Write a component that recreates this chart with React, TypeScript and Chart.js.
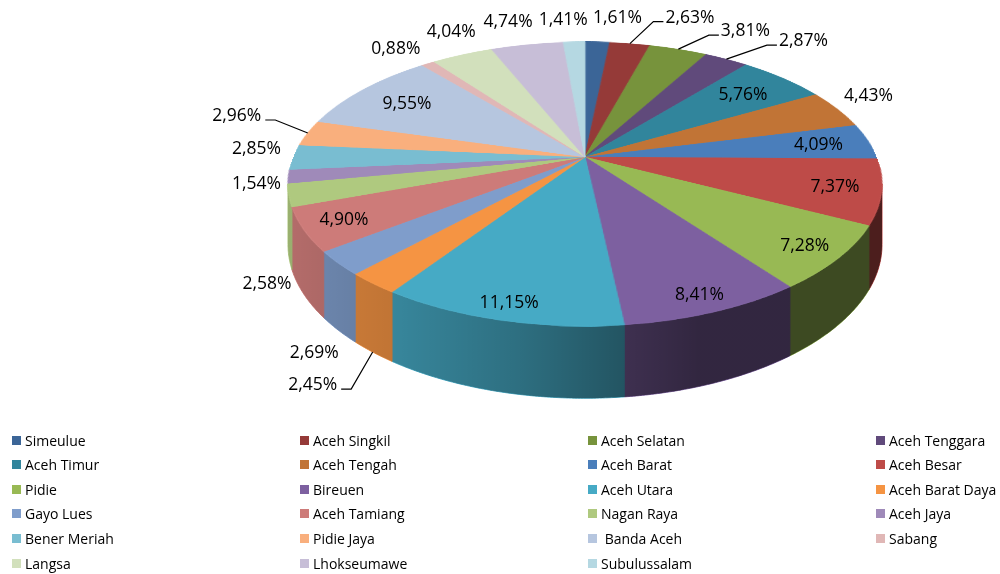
import React, { useEffect, useRef } from 'react';
import { Chart, registerables } from 'chart.js';

Chart.register(...registerables);

// ---------------- data ----------------
const REGIONS = [
  'Simeulue', 'Aceh Singkil', 'Aceh Selatan', 'Aceh Tenggara', 'Aceh Timur', 'Aceh Tengah',
  'Aceh Barat', 'Aceh Besar', 'Pidie', 'Bireuen', 'Aceh Utara', 'Aceh Barat Daya',
  'Gayo Lues', 'Aceh Tamiang', 'Nagan Raya', 'Aceh Jaya', 'Bener Meriah', 'Pidie Jaya',
  ' Banda Aceh', 'Sabang', 'Langsa', 'Lhokseumawe', 'Subulussalam',
];
const SHARES = [
  1.61, 2.63, 3.81, 2.87, 5.76, 4.43, 4.09, 7.37, 7.28, 8.41, 11.15, 2.45,
  2.69, 4.90, 2.58, 1.54, 2.85, 2.96, 9.55, 0.88, 4.04, 4.74, 1.41,
];
const COLORS = [
  '#3B6597', '#953A38', '#77933C', '#604A7B', '#31859C', '#C17436', '#4A7EBB', '#BE4B48',
  '#98B954', '#7D60A0', '#46AAC5', '#F59443', '#7F9DCB', '#CD7B79', '#AFC97F', '#9F8AB9',
  '#79BDD1', '#F9AF7D', '#B6C6DF', '#E0B7B6', '#D2E0BC', '#C7BED7', '#B5D8E2',
];

// label placement: null = inside the slice; [dx, dy, leader] = outside, offset from rim anchor
const LABEL_OUTSIDE: (number[] | null)[] = [
  [20, -25, 0], [60, -27, 1], [67, -19, 1], [77, -19, 1], null, [31, -14, 0], null, null,
  null, null, null, [-60, 32, 1], [-24, 22, 0], null, [-22, 26, 0], [-32, 7, 0],
  [-37, -9, 0], [-71, -18, 1], null, [-32, -15, 0], [-11, -24, 0], [-19, -24, 0], [-11, -23, 0],
];

// ---------------- 3D perspective geometry ----------------
const PX = 585;   // projected centre x
const PY = 157;   // projected centre y
const PA = 291.6; // horizontal scale
const PB = 136.9; // vertical scale
const PK = 0.19;  // perspective strength
const PD = 58.5;  // depth of the pie

const LABEL_FONT = '17.5px "Open Sans", sans-serif';

function proj(theta: number, r = 1): [number, number, number] {
  const u = r * Math.sin(theta);
  const v = -r * Math.cos(theta);
  const w = 1 - PK * v;
  return [PX + (PA * u) / w, PY + (PB * v) / w, w];
}

const fmt = (v: number) => v.toFixed(2).replace('.', ',') + '%';

function sidePath(ctx: CanvasRenderingContext2D, a: number, b: number) {
  const n = Math.max(2, Math.ceil(((b - a) * 180) / Math.PI * 2));
  ctx.beginPath();
  for (let j = 0; j <= n; j++) {
    const t = a + ((b - a) * j) / n;
    const [x, y] = proj(t);
    if (j === 0) ctx.moveTo(x, y); else ctx.lineTo(x, y);
  }
  for (let j = n; j >= 0; j--) {
    const t = a + ((b - a) * j) / n;
    const [x, y, w] = proj(t);
    ctx.lineTo(x, y + PD / w);
  }
  ctx.closePath();
}

const pie3d = {
  id: 'pie3d',
  afterDatasetsDraw(chart: any) {
    const ctx: CanvasRenderingContext2D = chart.ctx;
    const canvas: HTMLCanvasElement = chart.canvas;
    const meta = chart.getDatasetMeta(0);
    const arcs = meta.data;
    if (!arcs.length) return;
    const p0 = arcs[0].getProps(['x', 'y', 'outerRadius'], true);
    const c0x = p0.x, c0y = p0.y, R = p0.outerRadius;

    // copy the flat pie drawn by Chart.js
    const off = document.createElement('canvas');
    off.width = canvas.width;
    off.height = canvas.height;
    off.getContext('2d')!.drawImage(canvas, 0, 0);

    ctx.save();
    ctx.setTransform(1, 0, 0, 1, 0, 0);
    ctx.clearRect(0, 0, canvas.width, canvas.height);

    const angs = arcs.map((a: any) => {
      const p = a.getProps(['startAngle', 'endAngle'], true);
      return [p.startAngle + Math.PI / 2, p.endAngle + Math.PI / 2];
    });

    // ---- sides ----
    const tL = Math.acos(-PK);
    const tR = 2 * Math.PI - tL;
    angs.forEach(([s, e]: number[], i: number) => {
      const a = Math.max(s, tL);
      const b = Math.min(e, tR);
      if (b <= a) return;
      sidePath(ctx, a, b);
      ctx.fillStyle = COLORS[i];
      ctx.strokeStyle = COLORS[i];
      ctx.lineWidth = 1;
      ctx.fill();
      ctx.stroke();
    });
    const grad = ctx.createLinearGradient(288, 0, 882, 0);
    grad.addColorStop(0, 'rgba(0,0,0,0.12)');
    grad.addColorStop(0.1, 'rgba(0,0,0,0.18)');
    grad.addColorStop(0.19, 'rgba(0,0,0,0.22)');
    grad.addColorStop(0.39, 'rgba(0,0,0,0.35)');
    grad.addColorStop(0.567, 'rgba(0,0,0,0.5)');
    grad.addColorStop(0.69, 'rgba(0,0,0,0.6)');
    grad.addColorStop(1, 'rgba(0,0,0,0.6)');
    sidePath(ctx, tL, tR);
    ctx.fillStyle = grad;
    ctx.fill();

    // ---- top face: perspective warp, row by row ----
    ctx.imageSmoothingEnabled = true;
    (ctx as any).imageSmoothingQuality = 'high';
    const yTop = PY - PB / (1 + PK);
    const yBot = PY + PB / (1 - PK);
    const vOf = (y: number) => {
      const t = y - PY;
      return t / (PB + PK * t);
    };
    for (let yd = Math.floor(yTop); yd <= Math.ceil(yBot); yd++) {
      let v0 = vOf(yd);
      let v1 = vOf(yd + 1);
      v0 = Math.max(-1, v0);
      v1 = Math.min(1, v1);
      if (v1 <= v0) continue;
      const vc = (v0 + v1) / 2;
      const w = 1 - PK * vc;
      const sy = c0y + R * v0;
      const sh = Math.max(0.5, R * (v1 - v0));
      ctx.drawImage(off, c0x - R, sy, 2 * R, sh, PX - PA / w, yd, (2 * PA) / w, 1);
    }

    // ---- data labels ----
    ctx.font = LABEL_FONT;
    ctx.textBaseline = 'middle';
    ctx.textAlign = 'center';
    ctx.fillStyle = '#000';
    ctx.strokeStyle = '#000';
    ctx.lineWidth = 1.2;
    angs.forEach(([s, e]: number[], i: number) => {
      const mid = (s + e) / 2;
      const txt = fmt(SHARES[i]);
      const place = LABEL_OUTSIDE[i];
      let cx: number, cy: number;
      if (!place) {
        const v = -Math.cos(mid);
        const r = 0.83 + 0.08 * v;
        const [x, y] = proj(mid, r);
        cx = x; cy = y;
      } else {
        let [ax, ay, w] = proj(mid);
        if (mid > tL && mid < tR) ay += PD / w;
        cx = ax + place[0];
        cy = ay + place[1];
        if (place[2]) {
          const tw = ctx.measureText(txt).width;
          let ex: number, elx: number;
          if (place[0] > 0) {
            const left = cx - tw / 2;
            ex = left - 2; elx = left - 12;
          } else {
            const right = cx + tw / 2;
            ex = right + 4; elx = right + 14;
          }
          ctx.beginPath();
          ctx.moveTo(ax, ay);
          ctx.lineTo(elx, cy + 5);
          ctx.lineTo(ex, cy + 5);
          ctx.stroke();
        }
      }
      ctx.fillText(txt, cx, cy + 1);
    });
    ctx.restore();
  },
};

const LEGEND_X0 = 12;
const LEGEND_DX = 288;
const LEGEND_Y0 = 440;
const LEGEND_DY = 24.6;

export default function App() {
  const ref = useRef<HTMLCanvasElement>(null);
  useEffect(() => {
    if (!ref.current) return;
    const chart = new Chart(ref.current, {
      type: 'pie',
      data: {
        labels: REGIONS,
        datasets: [{ data: SHARES, backgroundColor: COLORS, borderColor: COLORS, borderWidth: 1 }],
      },
      options: {
        responsive: false,
        animation: false,
        devicePixelRatio: 1,
        events: [],
        layout: { padding: 0 },
        plugins: { legend: { display: false }, tooltip: { enabled: false } },
      } as any,
      plugins: [pie3d],
    });
    return () => chart.destroy();
  }, []);

  return (
    <div
      style={{
        position: 'fixed', left: 0, top: 0, width: 1000, height: 574, overflow: 'hidden',
        background: '#fff', fontFamily: '"Open Sans", sans-serif',
      }}
    >
      <canvas ref={ref} width={1000} height={574} style={{ position: 'absolute', left: 0, top: 0 }} />
      {REGIONS.map((name, i) => {
        const row = Math.floor(i / 4);
        const col = i % 4;
        return (
          <div
            key={i}
            style={{
              position: 'absolute',
              left: LEGEND_X0 + col * LEGEND_DX,
              top: LEGEND_Y0 + row * LEGEND_DY - 12,
              height: 24,
              display: 'flex',
              alignItems: 'center',
              fontSize: 14,
              color: '#000',
              whiteSpace: 'pre',
            }}
          >
            <span style={{ display: 'inline-block', width: 9, height: 9, background: COLORS[i], marginRight: 4 }} />
            <span>{name}</span>
          </div>
        );
      })}
    </div>
  );
}
